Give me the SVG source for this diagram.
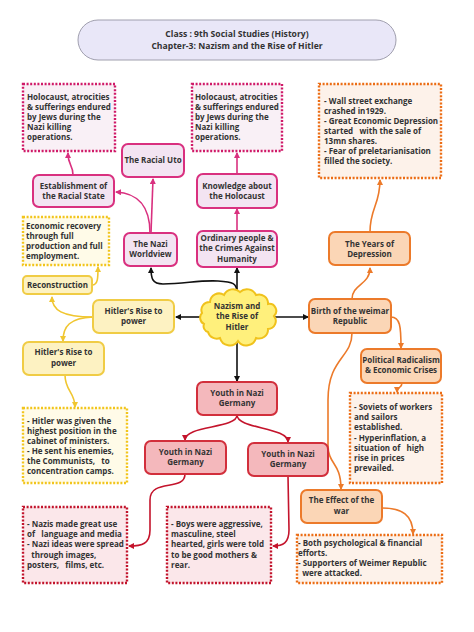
<svg xmlns="http://www.w3.org/2000/svg" width="474" height="632" viewBox="0 0 474 632">
<style>
text{font-family:"Open Sans","Liberation Sans",sans-serif;font-weight:700;font-size:8px;fill:#333;white-space:pre}
.c{text-anchor:middle}
.h{font-size:8.6px}
.pn{fill:#f3e4f2;stroke:#d9307f;stroke-width:2}
.pd{fill:#f9f0f6;stroke:#d01a68;stroke-width:2.4;stroke-dasharray:2 1.6}
.yn{fill:#fdf2c2;stroke:#f0cc45;stroke-width:2}
.yd{fill:#fffbe8;stroke:#f2c51c;stroke-width:2.4;stroke-dasharray:2 1.6}
.on{fill:#fbd6b6;stroke:#ec7a2a;stroke-width:2}
.od{fill:#fdf2ea;stroke:#ec6d15;stroke-width:2.4;stroke-dasharray:2 1.6}
.rn{fill:#f4b8bc;stroke:#d22f3c;stroke-width:2}
.rd{fill:#fbe7ea;stroke:#c2142c;stroke-width:2.4;stroke-dasharray:2 1.6}
.lp{fill:none;stroke:#d9307f;stroke-width:1.6}
.lk{fill:none;stroke:#111;stroke-width:1.6}
.ly{fill:none;stroke:#f0c630;stroke-width:1.6}
.lo{fill:none;stroke:#ec7a2a;stroke-width:1.6}
.lr{fill:none;stroke:#c4142c;stroke-width:1.6}
</style>
<defs>
<marker id="ap" markerWidth="6" markerHeight="6" refX="5" refY="3" orient="auto" markerUnits="userSpaceOnUse"><path d="M0,0 L6,3 L0,6 z" fill="#d9307f"/></marker>
<marker id="ak" markerWidth="6" markerHeight="6" refX="5" refY="3" orient="auto" markerUnits="userSpaceOnUse"><path d="M0,0 L6,3 L0,6 z" fill="#111"/></marker>
<marker id="ay" markerWidth="6" markerHeight="6" refX="5" refY="3" orient="auto" markerUnits="userSpaceOnUse"><path d="M0,0 L6,3 L0,6 z" fill="#f0c630"/></marker>
<marker id="ao" markerWidth="6" markerHeight="6" refX="5" refY="3" orient="auto" markerUnits="userSpaceOnUse"><path d="M0,0 L6,3 L0,6 z" fill="#ec7a2a"/></marker>
<marker id="ar" markerWidth="6" markerHeight="6" refX="5" refY="3" orient="auto" markerUnits="userSpaceOnUse"><path d="M0,0 L6,3 L0,6 z" fill="#c4142c"/></marker>
</defs>
<rect width="474" height="632" fill="#fff"/>

<g id="connectors">
<path class="lp" d="M73,175 C73,164 68,166 68,153" marker-end="url(#ap)"/>
<path class="lp" d="M151,233 L153,179" marker-end="url(#ap)"/>
<path class="lp" d="M150,233 C150,207 138,193 116,192" marker-end="url(#ap)"/>
<path class="lp" d="M237,231 L237,209" marker-end="url(#ap)"/>
<path class="lp" d="M237,174 L237,153" marker-end="url(#ap)"/>
<path class="lk" d="M237,293 L237,268" marker-end="url(#ak)"/>
<path class="lk" d="M237,293 C237,283 233,282 218,281 C198,280 185,284 163,284 C152,284 151,278 151,268" marker-end="url(#ak)"/>
<path class="lk" d="M200,317 C190,317 188,317 176,317" marker-end="url(#ak)"/>
<path class="lk" d="M274,317 L308,317" marker-end="url(#ak)"/>
<path class="lk" d="M237,340 L237,381" marker-end="url(#ak)"/>
<path class="ly" d="M93,317 C62,317 52,310 52,297" marker-end="url(#ay)"/>
<path class="ly" d="M93,317 C70,318 63,326 63,341" marker-end="url(#ay)"/>
<path class="ly" d="M92,285 C98,285 98,278 98,267" marker-end="url(#ay)"/>
<path class="ly" d="M65,375 C65,391 75,392 75,407" marker-end="url(#ay)"/>
<path class="lo" d="M370,232 C370,208 380,205 380,180" marker-end="url(#ao)"/>
<path class="lo" d="M352,299 C352,284 370,285 370,268" marker-end="url(#ao)"/>
<path class="lo" d="M391,317 C400,317 401,326 401,348" marker-end="url(#ao)"/>
<path class="lo" d="M402,383 C402,388 397,387 397,392" marker-end="url(#ao)"/>
<path class="lo" d="M352,333 C352,358 328,358 328,400 L328,445 C328,465 341,462 341,489" marker-end="url(#ao)"/>
<path class="lo" d="M382,508 C402,508 413,515 413,534" marker-end="url(#ao)"/>
<path class="lr" d="M237,415 C237,429 185,425 185,440" marker-end="url(#ar)"/>
<path class="lr" d="M237,415 C237,429 288,427 288,442" marker-end="url(#ar)"/>
<path class="lr" d="M185,474 C185,492 150,478 150,500 L150,530 C150,544 142,546 129,546" marker-end="url(#ar)"/>
<path class="lr" d="M288,476 L289,530 C289,543 283,546 273,546" marker-end="url(#ar)"/>
</g>

<g id="header">
<rect x="78" y="20" width="318" height="40" rx="20" fill="#e9e7f8" stroke="#a09fae" stroke-width="1"/>
<text class="c h" x="237" y="36.5">Class : 9th Social Studies (History)</text>
<text class="c h" x="237" y="48.5">Chapter-3: Nazism and the Rise of Hitler</text>
</g>

<g id="holocaust-left">
<rect class="pd" x="23" y="84" width="92" height="67"/>
<text x="27" y="100">Holocaust, atrocities</text>
<text x="27" y="110">&amp; sufferings endured</text>
<text x="27" y="120">by Jews during the</text>
<text x="27" y="130">Nazi killing</text>
<text x="27" y="140">operations.</text>
</g>
<g id="holocaust-mid">
<rect class="pd" x="192" y="84" width="90" height="67"/>
<text x="195" y="100">Holocaust, atrocities</text>
<text x="195" y="110">&amp; sufferings endured</text>
<text x="195" y="120">by Jews during the</text>
<text x="195" y="130">Nazi killing</text>
<text x="195" y="140">operations.</text>
</g>
<g id="racial-uto">
<rect class="pn" x="122" y="144" width="62" height="33" rx="6"/>
<text class="c" x="153" y="163">The Racial Uto</text>
</g>
<g id="racial-state">
<rect class="pn" x="33" y="175" width="81" height="32" rx="6"/>
<text class="c" x="73.5" y="189">Establishment of</text>
<text class="c" x="73.5" y="199">the Racial State</text>
</g>
<g id="knowledge">
<rect class="pn" x="197" y="174" width="80" height="34" rx="6"/>
<text class="c" x="237" y="189">Knowledge about</text>
<text class="c" x="237" y="199">the Holocaust</text>
</g>
<g id="worldview">
<rect class="pn" x="124" y="233" width="53" height="33" rx="6"/>
<text class="c" x="150.5" y="247">The Nazi</text>
<text class="c" x="150.5" y="257">Worldview</text>
</g>
<g id="ordinary">
<rect class="pn" x="197" y="231" width="80" height="36" rx="6"/>
<text class="c" x="237" y="241">Ordinary people &amp;</text>
<text class="c" x="237" y="251">the Crimes Against</text>
<text class="c" x="237" y="262">Humanity</text>
</g>

<g id="economic-recovery">
<rect class="yd" x="23" y="217" width="86" height="48"/>
<text x="26" y="229">Economic recovery</text>
<text x="26" y="239">through full</text>
<text x="26" y="249">production and full</text>
<text x="26" y="259">employment.</text>
</g>
<g id="reconstruction">
<rect class="yn" x="23" y="276" width="69" height="18" rx="4"/>
<text class="c" x="57.5" y="288">Reconstruction</text>
</g>
<g id="hitler-rise-mid">
<rect class="yn" x="93" y="300" width="81" height="33" rx="6"/>
<text class="c" x="133.5" y="314">Hitler's Rise to</text>
<text class="c" x="133.5" y="324">power</text>
</g>
<g id="hitler-rise-left">
<rect class="yn" x="23" y="342" width="81" height="33" rx="6"/>
<text class="c" x="63.5" y="355">Hitler's Rise to</text>
<text class="c" x="63.5" y="366">power</text>
</g>
<g id="hitler-notes">
<rect class="yd" x="23" y="408" width="104" height="75"/>
<text x="27" y="424">- Hitler was given the</text>
<text x="27" y="434">highest position in the</text>
<text x="27" y="444">cabinet of ministers.</text>
<text x="27" y="454">- He sent his enemies,</text>
<text x="27" y="464">the Communists,   to</text>
<text x="27" y="474">concentration camps.</text>
</g>

<g id="center">
<path d="M204,324 A7,7 0 0 1 202,313 A8,8 0 0 1 210,302 A9,9 0 0 1 224,295 A10,10 0 0 1 240,292 A10,10 0 0 1 256,295 A9,9 0 0 1 268,304 A7,7 0 0 1 274,316 A8,8 0 0 1 268,329 A9,9 0 0 1 256,338 A10,10 0 0 1 238,341 A10,10 0 0 1 220,338 A9,9 0 0 1 208,332 A6,6 0 0 1 204,324 Z" fill="#fff07c" stroke="#f0c21c" stroke-width="2"/>
<text class="c" x="237" y="309">Nazism and</text>
<text class="c" x="237" y="319">the Rise of</text>
<text class="c" x="237" y="330">Hitler</text>
</g>

<g id="depression-notes">
<rect class="od" x="319" y="84" width="122" height="94"/>
<text x="324" y="104">- Wall street exchange</text>
<text x="324" y="114">crashed in1929.</text>
<text x="324" y="124">- Great Economic Depression</text>
<text x="324" y="134">started   with the sale of</text>
<text x="324" y="144">13mn shares.</text>
<text x="324" y="154">- Fear of preletarianisation</text>
<text x="324" y="164">filled the society.</text>
</g>
<g id="years-depression">
<rect class="on" x="329" y="232" width="81" height="33" rx="6"/>
<text class="c" x="369.5" y="247">The Years of</text>
<text class="c" x="369.5" y="257">Depression</text>
</g>
<g id="weimar">
<rect class="on" x="309" y="299" width="82" height="34" rx="6"/>
<text class="c" x="350" y="314">Birth of the weimar</text>
<text class="c" x="350" y="324">Republic</text>
</g>
<g id="radicalism">
<rect class="on" x="361" y="349" width="80" height="34" rx="6"/>
<text class="c" x="401" y="363">Political Radicalism</text>
<text class="c" x="401" y="373">&amp; Economic Crises</text>
</g>
<g id="soviets-notes">
<rect class="od" x="350" y="393" width="92" height="90"/>
<text x="354" y="410">- Soviets of workers</text>
<text x="354" y="420">and sailors</text>
<text x="354" y="430">established.</text>
<text x="354" y="441">- Hyperinflation, a</text>
<text x="354" y="451">situation of   high</text>
<text x="354" y="461">rise in prices</text>
<text x="354" y="471">prevailed.</text>
</g>
<g id="effect-war">
<rect class="on" x="301" y="490" width="81" height="33" rx="6"/>
<text class="c" x="341.5" y="503">The Effect of the</text>
<text class="c" x="341.5" y="514">war</text>
</g>
<g id="war-notes">
<rect class="od" x="297" y="535" width="145" height="48"/>
<text x="298" y="546">- Both psychological &amp; financial</text>
<text x="298" y="556">efforts.</text>
<text x="298" y="566">- Supporters of Weimer Republic</text>
<text x="298" y="576">  were attacked.</text>
</g>

<g id="youth-top">
<rect class="rn" x="197" y="382" width="80" height="33" rx="6"/>
<text class="c" x="237" y="396">Youth in Nazi</text>
<text class="c" x="237" y="406">Germany</text>
</g>
<g id="youth-left">
<rect class="rn" x="145" y="441" width="81" height="33" rx="6"/>
<text class="c" x="185.5" y="455">Youth in Nazi</text>
<text class="c" x="185.5" y="465">Germany</text>
</g>
<g id="youth-right">
<rect class="rn" x="248" y="443" width="80" height="33" rx="6"/>
<text class="c" x="288" y="457">Youth in Nazi</text>
<text class="c" x="288" y="467">Germany</text>
</g>
<g id="media-notes">
<rect class="rd" x="23" y="507" width="104" height="76"/>
<text x="27" y="527">- Nazis made great use</text>
<text x="27" y="537">of   language and media</text>
<text x="27" y="547">- Nazi ideas were spread</text>
<text x="27" y="558">  through images,</text>
<text x="27" y="568">posters,   films, etc.</text>
</g>
<g id="gender-notes">
<rect class="rd" x="167" y="507" width="104" height="76"/>
<text x="171" y="527">- Boys were aggressive,</text>
<text x="171" y="537">masculine, steel</text>
<text x="171" y="547">hearted, girls were told</text>
<text x="171" y="558">to be good mothers &amp;</text>
<text x="171" y="568">rear.</text>
</g>
</svg>
